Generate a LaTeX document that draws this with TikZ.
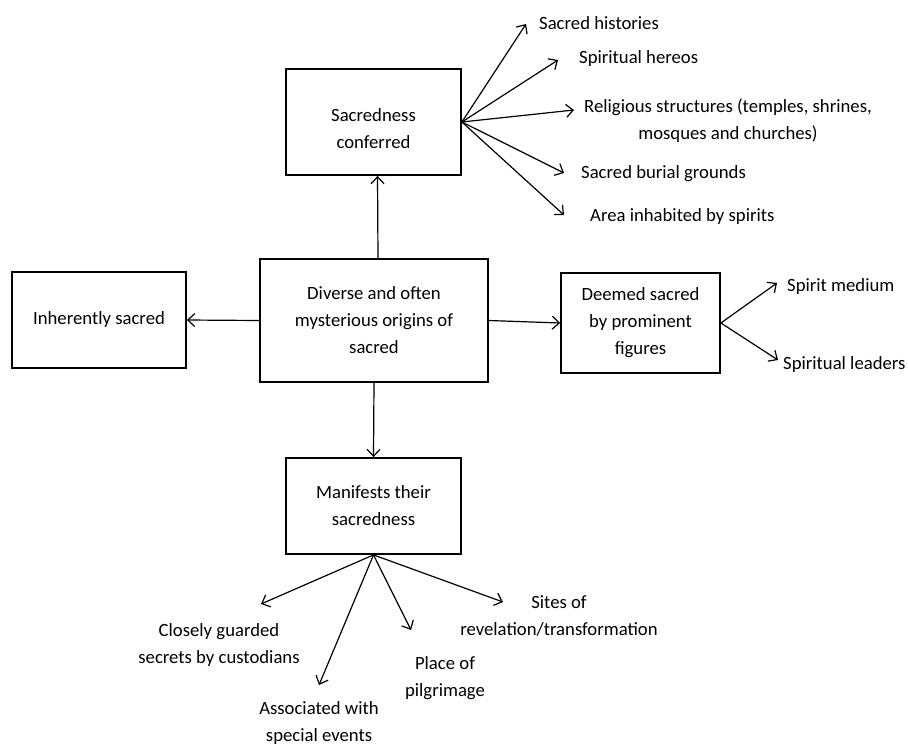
\documentclass[tikz,border=0pt]{standalone}
\usepackage{fontspec}
\setmainfont{Carlito}
\usetikzlibrary{arrows.meta}
\newcommand\lblfont{\fontsize{18.7}{27}\selectfont}
\begin{document}
\begin{tikzpicture}[x=1pt,y=-1pt,
  box/.style={draw, line width=1.8pt, inner sep=0pt, align=center, font=\lblfont},
  txt/.style={inner sep=0pt, align=center, font=\lblfont},
  arr/.style={line width=1.2pt, -{Straight Barb[length=7pt,width=13pt]}}]
\useasboundingbox (0,0) rectangle (908,745);

% boxes
\node[box, minimum width=175pt, minimum height=106pt] (conf) at (373.5,122) {};
\node[txt] (conftext) at (373.5,129) {Sacredness\\conferred};
\node[box, minimum width=228pt, minimum height=123pt] (cen) at (374,320.5) {Diverse and often\\mysterious origins of\\sacred};
\node[box, minimum width=174pt, minimum height=96pt] (inh) at (99,320) {Inherently sacred};
\node[box, minimum width=159pt, minimum height=100pt] (deem) at (640.5,323) {Deemed sacred\\by prominent\\figures};
\node[box, minimum width=175pt, minimum height=96pt] (man) at (373.5,506) {Manifests their\\sacredness};

% free labels
\node[txt, anchor=west] (hist) at (539,23) {Sacred histories};
\node[txt, anchor=west] (hero) at (579,59) {Spiritual hereos};
\node[txt] (relig) at (728,121) {Religious structures (temples, shrines,\\mosques and churches)};
\node[txt, anchor=west] (burial) at (581,174) {Sacred burial grounds};
\node[txt, anchor=west] (area) at (590,217) {Area inhabited by spirits};
\node[txt, anchor=west] (medium) at (787,287) {Spirit medium};
\node[txt, anchor=west] (leaders) at (783,365) {Spiritual leaders};
\node[txt] (guard) at (219,645) {Closely guarded\\secrets by custodians};
\node[txt] (assoc) at (319,723) {Associated with\\special events};
\node[txt] (pilg) at (445,678) {Place of\\pilgrimage};
\node[txt] (sites) at (559,616) {Sites of\\revelation/transformation};

% arrow tips of the fans
\coordinate (tHist) at (526,24);
\coordinate (tHero) at (558,60);
\coordinate (tRelig) at (574,110);
\coordinate (tBurial) at (564,173);
\coordinate (tArea) at (564,215);
\coordinate (tMedium) at (777,283);
\coordinate (tLeaders) at (778,360);
\coordinate (tGuard) at (261,604);
\coordinate (tAssoc) at (319,685);
\coordinate (tPilg) at (411,630);
\coordinate (tSites) at (503,602);

% main connectors
\draw[arr] ([xshift=4pt]cen.north) -- ([xshift=4pt]conf.south);
\draw[arr] (cen.south) -- (man.north);
\draw[arr] (cen.west) -- (inh.east);
\draw[arr] (cen.east) -- (deem.west);

% fans
\foreach \t in {tHist,tHero,tRelig,tBurial,tArea}
  \draw[arr] (conf.east) -- (\t);
\foreach \t in {tMedium,tLeaders}
  \draw[arr] (deem.east) -- (\t);
\foreach \t in {tGuard,tAssoc,tPilg,tSites}
  \draw[arr] (man.south) -- (\t);
\end{tikzpicture}
\end{document}
